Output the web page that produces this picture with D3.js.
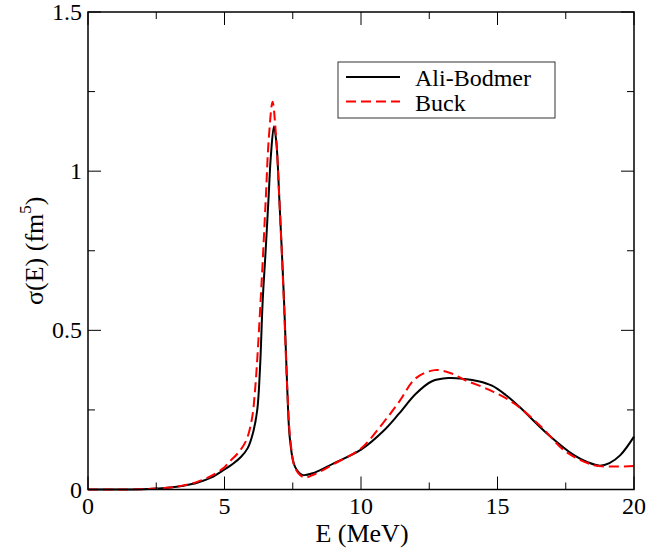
<!DOCTYPE html>
<html>
<head>
<meta charset="utf-8">
<script src="https://cdn.jsdelivr.net/npm/d3@7"></script>
<style>
  body { margin: 0; background: #fff; }
</style>
</head>
<body>
<div id="chart"></div>
<script>
// Cross section sigma(E)
const aliE = [0, 1, 2, 2.5, 3, 3.5, 4, 4.5, 5, 5.3, 5.6, 5.85, 6.05, 6.2, 6.3, 6.4, 6.5, 6.61, 6.7, 6.81, 6.9, 7.01, 7.18, 7.3, 7.4, 7.58, 7.85, 8.3, 9, 10, 10.8, 11.4, 12, 12.6, 13.2, 13.8, 14.3, 14.8, 15.3, 15.8, 16.8, 17.8, 18.3, 18.75, 19.1, 19.5, 20];
const aliS = [0, 0, 0.001, 0.003, 0.006, 0.012, 0.021, 0.037, 0.063, 0.08, 0.102, 0.13, 0.18, 0.25, 0.38, 0.595, 0.74, 0.91, 1.05, 1.14, 1.09, 0.91, 0.595, 0.313, 0.155, 0.072, 0.046, 0.053, 0.082, 0.125, 0.182, 0.239, 0.3, 0.34, 0.35, 0.347, 0.34, 0.326, 0.297, 0.26, 0.177, 0.108, 0.086, 0.075, 0.083, 0.108, 0.166];

const buckE = [0, 1, 2, 2.5, 3, 3.5, 4, 4.5, 5, 5.13, 5.5, 5.8, 6.0, 6.12, 6.34, 6.51, 6.62, 6.76, 6.88, 7.01, 7.17, 7.3, 7.42, 7.6, 7.91, 8.3, 9, 10, 10.8, 11.4, 12, 12.7, 13.3, 13.8, 14.7, 15.6, 16.6, 17.5, 18.5, 19.2, 20];
const buckS = [0, 0, 0.001, 0.003, 0.006, 0.013, 0.024, 0.042, 0.07, 0.083, 0.115, 0.155, 0.22, 0.313, 0.62, 0.91, 1.1, 1.218, 1.12, 0.91, 0.6, 0.313, 0.15, 0.065, 0.038, 0.048, 0.08, 0.129, 0.208, 0.276, 0.349, 0.375, 0.365, 0.344, 0.313, 0.271, 0.197, 0.119, 0.077, 0.072, 0.074];

const xMajor = [0, 5, 10, 15, 20];
const xMinor = [2.5, 7.5, 12.5, 17.5];
const yMajor = [0, 0.5, 1, 1.5];
const yMinor = [0.25, 0.75, 1.25];
const yTickLabels = ['0', '0.5', '1', '1.5'];

const seriesNames = ['Ali-Bodmer', 'Buck'];

const width = 646, height = 552;
const plotL = 88, plotR = 634, plotT = 12, plotB = 489.5;
const serif = '"Liberation Serif", "Times New Roman", Times, serif';

const svg = d3.select('#chart').append('svg')
    .attr('width', width).attr('height', height)
    .attr('font-family', serif);

const x = d3.scaleLinear().domain([0, 20]).range([plotL, plotR]);
const y = d3.scaleLinear().domain([0, 1.5]).range([plotB, plotT]);

// curves
const line = d3.line().x(d => x(d[0])).y(d => y(d[1])).curve(d3.curveCatmullRom.alpha(0.5));

svg.append('path')
    .datum(d3.zip(aliE, aliS))
    .attr('d', line)
    .attr('fill', 'none').attr('stroke', '#000').attr('stroke-width', 2);

svg.append('path')
    .datum(d3.zip(buckE, buckS))
    .attr('d', line)
    .attr('fill', 'none').attr('stroke', '#ff0000').attr('stroke-width', 2)
    .attr('stroke-dasharray', '10,5');

// ticks on all four sides, pointing inward
const ticks = svg.append('g').attr('stroke', '#000').attr('stroke-width', 1);
function xTick(v, len) {
    ticks.append('line').attr('x1', x(v)).attr('x2', x(v)).attr('y1', plotB).attr('y2', plotB - len);
    ticks.append('line').attr('x1', x(v)).attr('x2', x(v)).attr('y1', plotT).attr('y2', plotT + len);
}
function yTick(v, len) {
    ticks.append('line').attr('y1', y(v)).attr('y2', y(v)).attr('x1', plotL).attr('x2', plotL + len);
    ticks.append('line').attr('y1', y(v)).attr('y2', y(v)).attr('x1', plotR).attr('x2', plotR - len);
}
xMajor.forEach(v => xTick(v, 13));
xMinor.forEach(v => xTick(v, 7));
yMajor.forEach(v => yTick(v, 13));
yMinor.forEach(v => yTick(v, 7));

// frame
svg.append('rect')
    .attr('x', plotL).attr('y', plotT)
    .attr('width', plotR - plotL).attr('height', plotB - plotT)
    .attr('fill', 'none').attr('stroke', '#000').attr('stroke-width', 1.5);

// tick labels
svg.selectAll('.xl').data(xMajor).enter().append('text')
    .attr('x', d => x(d)).attr('y', 514)
    .attr('text-anchor', 'middle').attr('font-size', 24)
    .text(d => d);

svg.selectAll('.yl').data(yMajor).enter().append('text')
    .attr('x', 82).attr('y', d => y(d) + 8)
    .attr('text-anchor', 'end').attr('font-size', 24)
    .text((d, i) => yTickLabels[i]);

// axis titles
svg.append('text')
    .attr('x', (plotL + plotR) / 2 + 1).attr('y', 542)
    .attr('text-anchor', 'middle').attr('font-size', 26)
    .text('E (MeV)');

const yt = svg.append('text')
    .attr('transform', 'translate(43,' + ((plotT + plotB) / 2) + ') rotate(-90)')
    .attr('text-anchor', 'middle').attr('font-size', 26);
yt.append('tspan').text('σ(E) (fm');
yt.append('tspan').attr('font-size', 17).attr('dy', -12).text('5');
yt.append('tspan').attr('dy', 12).text(')');

// legend
const lg = svg.append('g');
lg.append('rect')
    .attr('x', 338).attr('y', 62).attr('width', 217).attr('height', 56)
    .attr('fill', '#fff').attr('stroke', '#333').attr('stroke-width', 1);
const legendStyles = [{ c: '#000', dash: null, yy: 77 }, { c: '#ff0000', dash: '10,5', yy: 101.5 }];
seriesNames.forEach((name, i) => {
    const s = legendStyles[i];
    lg.append('line')
        .attr('x1', 346).attr('x2', 400).attr('y1', s.yy).attr('y2', s.yy)
        .attr('stroke', s.c).attr('stroke-width', 2)
        .attr('stroke-dasharray', s.dash);
    lg.append('text')
        .attr('x', 415).attr('y', s.yy + 9)
        .attr('font-size', 24)
        .text(name);
});
</script>
</body>
</html>
